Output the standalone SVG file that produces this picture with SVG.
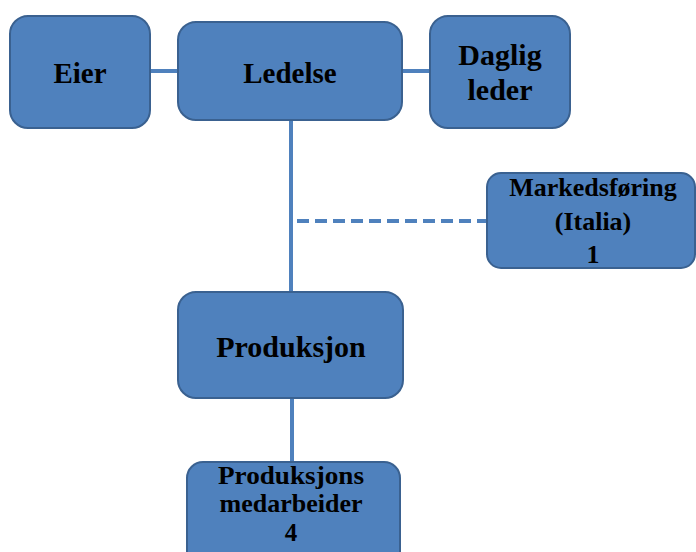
<svg xmlns="http://www.w3.org/2000/svg" width="696" height="552" viewBox="0 0 696 552">
<style>
.box{fill:#4f81bd;stroke:#3a6190;stroke-width:2}
.t{font-family:"Liberation Serif","Times New Roman",serif;font-weight:bold;fill:#000;text-anchor:middle}
.ln{stroke:#4f81bd;stroke-width:4;fill:none}
.dash{stroke-dasharray:12,6}
</style>
<rect width="696" height="552" fill="#fff"/>
<g id="connectors">
<line class="ln" x1="150" y1="71" x2="178" y2="71"/>
<line class="ln" x1="402" y1="71" x2="430" y2="71"/>
<line class="ln" x1="291" y1="120" x2="291" y2="292"/>
<line class="ln dash" x1="297" y1="221" x2="487" y2="221"/>
<line class="ln" x1="292" y1="398" x2="292" y2="462"/>
</g>
<g id="eier">
<rect class="box" x="10" y="16" width="140" height="112" rx="18"/>
<text class="t" x="80" y="83" font-size="29">Eier</text>
</g>
<g id="ledelse">
<rect class="box" x="178" y="22" width="224" height="98" rx="18"/>
<text class="t" x="290" y="83" font-size="29">Ledelse</text>
</g>
<g id="daglig">
<rect class="box" x="430" y="16" width="140" height="112" rx="18"/>
<text class="t" x="500" y="65" font-size="30">Daglig</text>
<text class="t" x="500" y="100" font-size="30">leder</text>
</g>
<g id="marked">
<rect class="box" x="487" y="173" width="208" height="95" rx="14"/>
<text class="t" x="593" y="196" font-size="26">Markedsføring</text>
<text class="t" x="593" y="230" font-size="26">(Italia)</text>
<text class="t" x="593" y="263" font-size="26">1</text>
</g>
<g id="produksjon">
<rect class="box" x="178" y="292" width="225" height="106" rx="18"/>
<text class="t" x="291" y="357" font-size="30">Produksjon</text>
</g>
<g id="medarbeider">
<rect class="box" x="187" y="462" width="213" height="110" rx="16"/>
<text class="t" x="291" y="484" font-size="25" textLength="146" lengthAdjust="spacingAndGlyphs">Produksjons</text>
<text class="t" x="291" y="512" font-size="25" textLength="143" lengthAdjust="spacingAndGlyphs">medarbeider</text>
<text class="t" x="291" y="541" font-size="25">4</text>
</g>
</svg>
